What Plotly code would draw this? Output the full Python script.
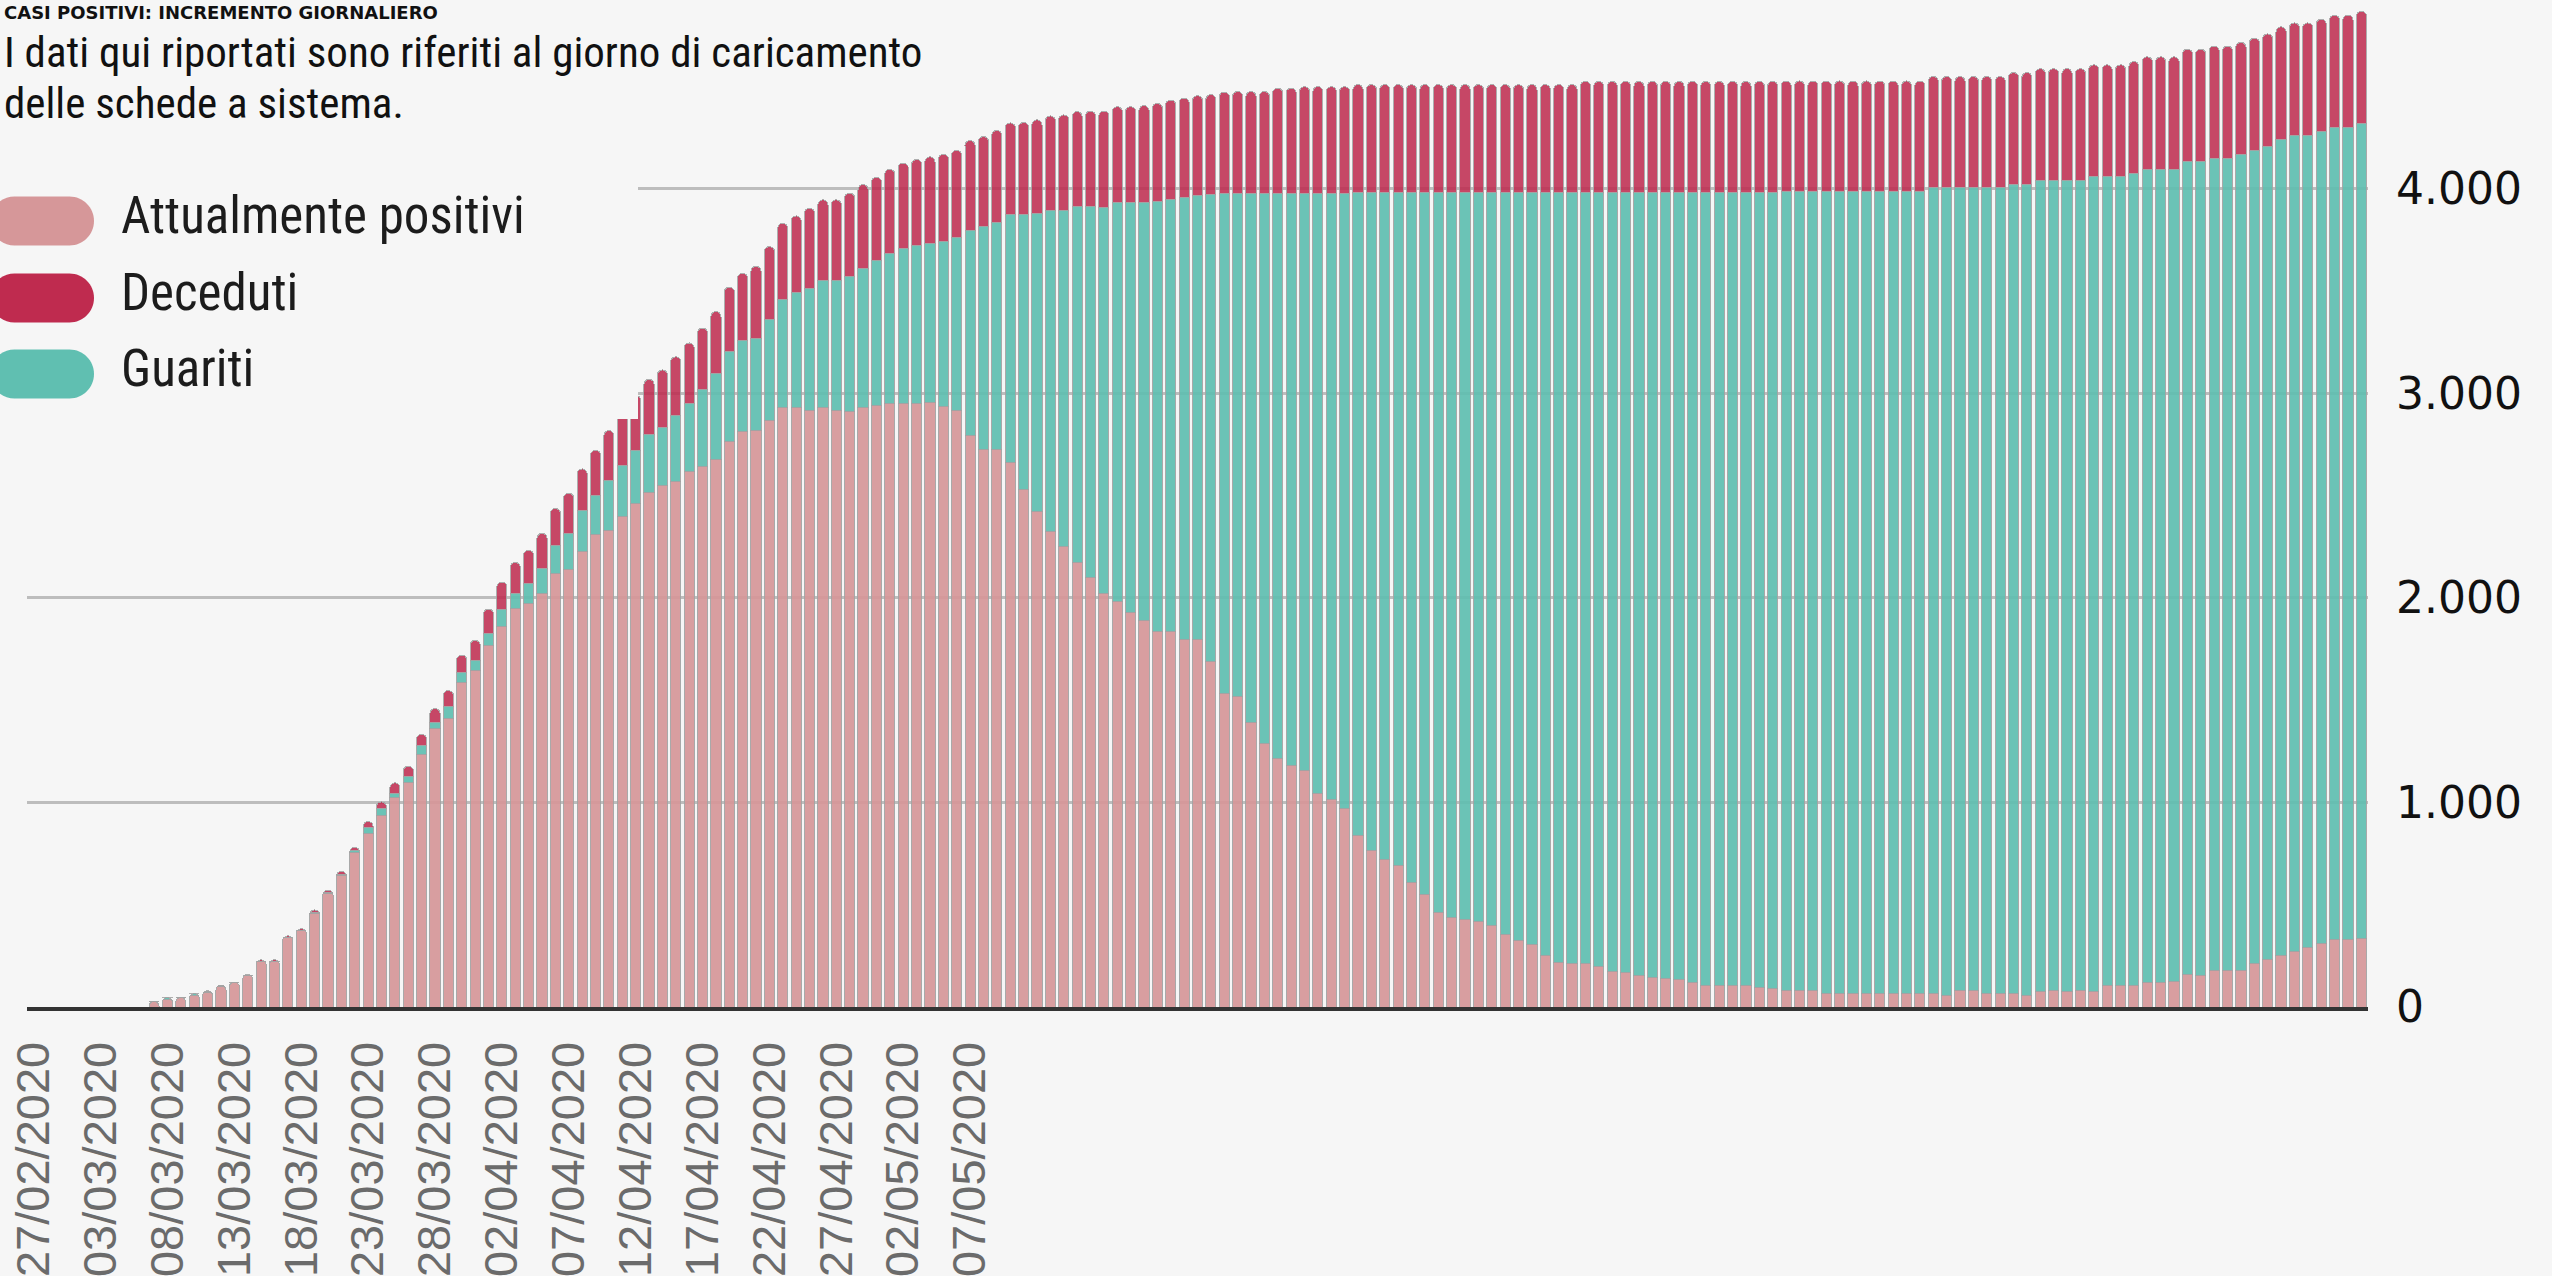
import plotly.graph_objects as go
import pandas as pd

# ---------------- data ----------------
DATES = [d.strftime("%d/%m/%Y") for d in pd.date_range("2020-02-27", periods=175, freq="D")]

TICK_LABELS = ["27/02/2020", "03/03/2020", "08/03/2020", "13/03/2020", "18/03/2020",
               "23/03/2020", "28/03/2020", "02/04/2020", "07/04/2020", "12/04/2020",
               "17/04/2020", "22/04/2020", "27/04/2020", "02/05/2020", "07/05/2020"]

Y_TICKS = [0, 1000, 2000, 3000, 4000]

POSITIVI = [0, 0, 0, 0, 0, 0, 0, 0, 0, 27,
            36, 46, 55, 70, 100, 118, 155, 222, 222, 338,
            372, 455, 555, 645, 755, 850, 937, 1024, 1100, 1236,
            1364, 1413, 1589, 1644, 1766, 1861, 1951, 1975, 2024, 2119,
            2141, 2228, 2309, 2329, 2400, 2460, 2517, 2549, 2568, 2617,
            2644, 2679, 2766, 2812, 2820, 2869, 2929, 2929, 2915, 2929,
            2915, 2910, 2929, 2943, 2953, 2951, 2951, 2956, 2937, 2915,
            2793, 2726, 2726, 2663, 2530, 2422, 2324, 2251, 2175, 2102,
            2020, 1985, 1931, 1890, 1836, 1836, 1798, 1798, 1690, 1532,
            1519, 1391, 1288, 1215, 1180, 1158, 1044, 1017, 971, 841,
            765, 719, 692, 610, 551, 461, 439, 426, 420, 399,
            353, 325, 306, 252, 217, 212, 212, 198, 176, 168,
            155, 144, 141, 136, 122, 103, 103, 103, 103, 95,
            90, 83, 83, 83, 64, 64, 64, 64, 64, 64,
            64, 64, 64, 57, 83, 83, 64, 64, 64, 57,
            76, 83, 76, 83, 76, 105, 105, 105, 121, 121,
            127, 159, 156, 178, 179, 178, 213, 233, 254, 271,
            292, 311, 328, 328, 336]

GUARITI = [0, 0, 0, 0, 0, 0, 0, 0, 0, 0,
           10, 0, 10, 6, 3, 0, 0, 0, 0, 0,
           0, 8, 3, 5, 8, 27, 36, 22, 28, 41,
           27, 54, 47, 49, 60, 82, 73, 98, 122, 136,
           174, 198, 191, 247, 250, 263, 282, 285, 326, 334,
           377, 421, 440, 445, 448, 494, 529, 564, 597, 624,
           638, 662, 683, 705, 733, 756, 773, 775, 806, 847,
           1004, 1090, 1111, 1210, 1343, 1456, 1573, 1646, 1738, 1811,
           1891, 1947, 2001, 2042, 2104, 2114, 2162, 2172, 2285, 2446,
           2461, 2589, 2692, 2765, 2800, 2822, 2936, 2963, 3009, 3144,
           3220, 3266, 3293, 3375, 3434, 3524, 3546, 3559, 3565, 3586,
           3632, 3660, 3679, 3733, 3768, 3773, 3773, 3787, 3809, 3817,
           3830, 3841, 3844, 3849, 3863, 3882, 3882, 3882, 3882, 3890,
           3895, 3904, 3904, 3904, 3923, 3923, 3923, 3923, 3923, 3923,
           3923, 3923, 3941, 3948, 3922, 3922, 3941, 3941, 3960, 3967,
           3967, 3960, 3967, 3960, 3986, 3957, 3957, 3973, 3975, 3975,
           3969, 3975, 3978, 3971, 3970, 3989, 3975, 3975, 3989, 3991,
           3970, 3969, 3972, 3972, 3983]

DECEDUTI = [0, 0, 0, 0, 0, 0, 0, 0, 0, 0,
            0, 0, 0, 3, 3, 4, 5, 9, 9, 10,
            11, 12, 13, 13, 17, 30, 30, 50, 50, 56,
            68, 80, 85, 100, 120, 135, 150, 160, 170, 182,
            198, 205, 222, 242, 255, 268, 270, 281, 285, 296,
            299, 300, 314, 331, 354, 355, 374, 375, 394, 394,
            394, 408, 409, 409, 410, 420, 420, 426, 427, 427,
            440, 440, 449, 450, 452, 460, 460, 465, 465, 468,
            470, 470, 470, 475, 478, 485, 485, 486, 486, 496,
            496, 496, 496, 513, 513, 520, 520, 520, 520, 525,
            525, 525, 525, 525, 525, 525, 525, 525, 525, 525,
            525, 525, 525, 525, 525, 525, 541, 541, 541, 541,
            541, 541, 541, 541, 541, 541, 541, 541, 541, 541,
            541, 541, 541, 541, 541, 541, 541, 541, 541, 541,
            541, 541, 545, 545, 545, 545, 545, 545, 545, 545,
            545, 545, 545, 545, 545, 545, 545, 545, 550, 550,
            550, 550, 550, 550, 550, 550, 550, 550, 550, 550,
            550, 550, 550, 550, 550]

SERIES_NAMES = ["Attualmente positivi", "Deceduti", "Guariti"]

TITLE = "CASI POSITIVI: INCREMENTO GIORNALIERO"
SUBTITLE_LINES = ["I dati qui riportati sono riferiti al giorno di caricamento",
                  "delle schede a sistema."]

# ---------------- styling ----------------
BG = "#f6f6f6"
COL_POS = "#d69799"
COL_DEC = "#bf2b4f"
COL_GUA = "#60bfb1"
COND = "'Roboto Condensed', 'Liberation Sans Narrow', 'DejaVu Sans Condensed', Roboto, sans-serif"
ARIAL = "'Liberation Sans', Arial, sans-serif"
WIDE = "'DejaVu Sans', 'Liberation Sans', sans-serif"

W, H = 2552, 1276
ML, MR, MT, MB = 27, 184, 0, 269
PW = W - ML - MR
PH = H - MT - MB


def px2x(px):
    return (px - ML) / PW


def py2y(py):
    return (H - MB - py) / PH


fig = go.Figure()
bar_line = dict(color="#a3a3a3", width=1)
fig.add_trace(go.Bar(x=DATES, y=POSITIVI, name=SERIES_NAMES[0],
                     marker=dict(color=COL_POS, line=bar_line), opacity=0.92))
fig.add_trace(go.Bar(x=DATES, y=GUARITI, name=SERIES_NAMES[2],
                     marker=dict(color=COL_GUA, line=bar_line), opacity=0.92))
fig.add_trace(go.Bar(x=DATES, y=DECEDUTI, name=SERIES_NAMES[1],
                     marker=dict(color=COL_DEC, line=bar_line), opacity=0.86))

shapes = []
# legend background box (covers bars / gridlines like the reference)
shapes.append(dict(type="rect", xref="paper", yref="paper",
                   x0=px2x(-30), x1=px2x(638), y0=py2y(419), y1=py2y(-30),
                   fillcolor=BG, line=dict(width=0), layer="above"))

# pill-shaped legend swatches
L, R = 52, 24.5
k = 0.5523 * R
pill = (f"M {-L+R},{-R} L {L-R},{-R} "
        f"C {L-R+k},{-R} {L},{-k} {L},0 "
        f"C {L},{k} {L-R+k},{R} {L-R},{R} "
        f"L {-L+R},{R} "
        f"C {-L+R-k},{R} {-L},{k} {-L},0 "
        f"C {-L},{-k} {-L+R-k},{-R} {-L+R},{-R} Z")
legend_rows = [(SERIES_NAMES[0], COL_POS, 221),
               (SERIES_NAMES[1], COL_DEC, 298),
               (SERIES_NAMES[2], COL_GUA, 374)]
annotations = []
for name, col, cy in legend_rows:
    shapes.append(dict(type="path", xref="paper", yref="paper",
                       xsizemode="pixel", ysizemode="pixel",
                       xanchor=px2x(42), yanchor=py2y(cy),
                       path=pill, fillcolor=col, line=dict(width=0), layer="above"))
    annotations.append(dict(text=name, xref="paper", yref="paper",
                            x=px2x(119), y=py2y(cy - 6), xanchor="left", yanchor="middle",
                            showarrow=False, font=dict(family=COND, size=51, color="#1c1c1c")))

annotations.append(dict(text="<b>" + TITLE + "</b>",
                        xref="paper", yref="paper", x=px2x(2), y=py2y(0),
                        xanchor="left", yanchor="top", showarrow=False,
                        font=dict(family=WIDE, size=18, color="#111111")))
for line, cy in zip(SUBTITLE_LINES, [52, 103]):
    annotations.append(dict(text=line, xref="paper", yref="paper", x=px2x(2), y=py2y(cy),
                            xanchor="left", yanchor="middle", showarrow=False,
                            font=dict(family=COND, size=43, color="#111111")))

fig.update_layout(
    width=W, height=H,
    margin=dict(l=ML, r=MR, t=MT, b=MB, pad=0),
    paper_bgcolor=BG, plot_bgcolor=BG,
    barmode="stack", bargap=0.24, barcornerradius=5,
    showlegend=False,
    separators=",.",
    shapes=shapes,
    annotations=annotations,
    xaxis=dict(type="category", range=[-0.5, len(DATES) - 0.5],
               tickmode="array", tickvals=TICK_LABELS, ticktext=TICK_LABELS,
               tickangle=-90, tickfont=dict(family=ARIAL, size=47, color="#6b6b6b"),
               showgrid=False, zeroline=False, showline=True, linecolor="#333333", linewidth=4,
               ticks="", ticklabelstandoff=12, fixedrange=True),
    yaxis=dict(side="right", range=[0, 4924], tickmode="array", tickvals=Y_TICKS,
               tickformat=",d", tickfont=dict(family=WIDE, size=44, color="#111111"),
               showgrid=True, gridcolor="#bdbdbd", gridwidth=3, zeroline=False,
               showline=False, ticks="", ticklabelstandoff=27, fixedrange=True),
)

fig.write_html("out.html", config={"displayModeBar": False},
               post_script="document.body.style.margin='0';document.body.style.overflow='hidden';")
